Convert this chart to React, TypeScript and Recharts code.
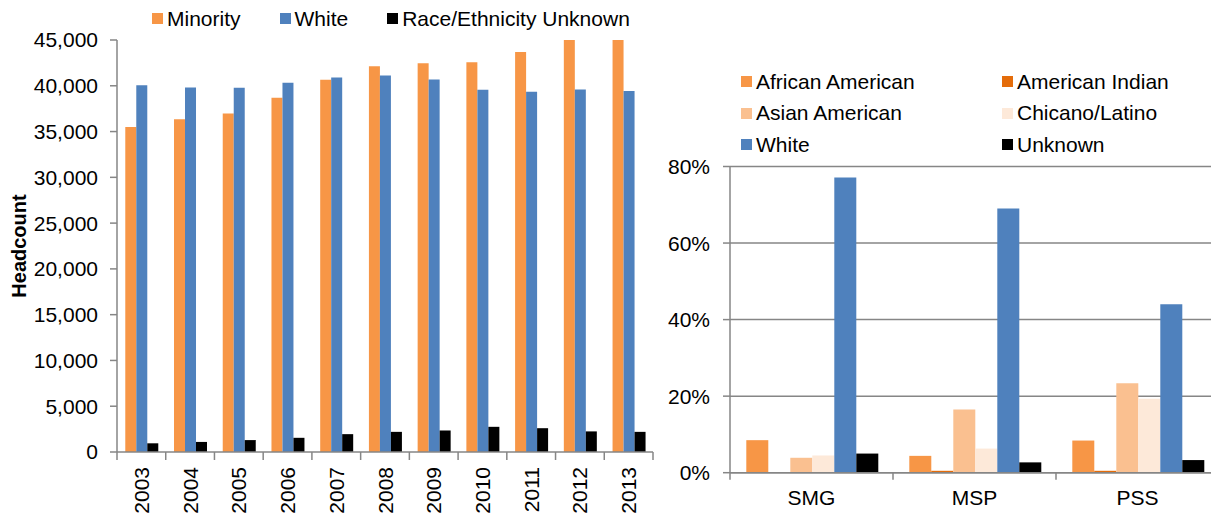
import { BarChart, Bar, XAxis, YAxis, CartesianGrid, Legend } from "recharts";

// headcount by year
const YEARS = ["2003", "2004", "2005", "2006", "2007", "2008", "2009", "2010", "2011", "2012", "2013"];
const MINORITY = [35500, 36340, 36960, 38700, 40650, 42140, 42460, 42570, 43700, 45400, 45900];
const WHITE = [40050, 39820, 39780, 40330, 40900, 41120, 40690, 39570, 39350, 39600, 39420];
const UNKNOWN = [950, 1100, 1300, 1550, 1950, 2200, 2350, 2750, 2600, 2250, 2200];
const HEAD_TICKS = [0, 5000, 10000, 15000, 20000, 25000, 30000, 35000, 40000, 45000];

// share by campus
const CAMPUSES = ["SMG", "MSP", "PSS"];
const AFRICAN_AM = [0.085, 0.044, 0.084];
const AM_INDIAN = [0, 0.005, 0.005];
const ASIAN_AM = [0.039, 0.165, 0.234];
const CHICANO = [0.045, 0.063, 0.193];
const WHITE_PCT = [0.771, 0.69, 0.44];
const UNKNOWN_PCT = [0.05, 0.027, 0.033];
const PCT_TICKS = [0, 0.2, 0.4, 0.6, 0.8];

const LEFT_SERIES = [
  { key: "minority", name: "Minority", color: "#F79646" },
  { key: "white", name: "White", color: "#4F81BD" },
  { key: "unknown", name: "Race/Ethnicity Unknown", color: "#000000" },
];

const RIGHT_SERIES = [
  { key: "african", name: "African American", color: "#F79646" },
  { key: "indian", name: "American Indian", color: "#E46C0A" },
  { key: "asian", name: "Asian American", color: "#FAC090" },
  { key: "chicano", name: "Chicano/Latino", color: "#FDE9D9" },
  { key: "white", name: "White", color: "#4F81BD" },
  { key: "unknown", name: "Unknown", color: "#000000" },
];

const headData = YEARS.map((year, i) => ({
  year,
  minority: MINORITY[i],
  white: WHITE[i],
  unknown: UNKNOWN[i],
}));

const pctData = CAMPUSES.map((campus, i) => ({
  campus,
  african: AFRICAN_AM[i],
  indian: AM_INDIAN[i],
  asian: ASIAN_AM[i],
  chicano: CHICANO[i],
  white: WHITE_PCT[i],
  unknown: UNKNOWN_PCT[i],
}));

const AXIS = "#868686";
const FONT = "'Liberation Sans', Arial, sans-serif";

const LEFT_BAND = 536 / YEARS.length;
const RIGHT_BAND = 489 / CAMPUSES.length;

const YearTick = ({ x, y, payload, index }: any) => (
  <g>
    <line x1={x - LEFT_BAND / 2} x2={x - LEFT_BAND / 2} y1={y} y2={y + 8} stroke={AXIS} strokeWidth={1.5} />
    {index === YEARS.length - 1 && (
      <line x1={x + LEFT_BAND / 2} x2={x + LEFT_BAND / 2} y1={y} y2={y + 8} stroke={AXIS} strokeWidth={1.5} />
    )}
    <text
      transform={`translate(${x},${y + 15}) rotate(-90)`}
      textAnchor="end"
      dominantBaseline="central"
      fontSize={21}
      fill="#000"
    >
      {payload.value}
    </text>
  </g>
);

const CampusTick = ({ x, y, payload }: any) => (
  <g>
    <line x1={x - RIGHT_BAND / 2} x2={x - RIGHT_BAND / 2} y1={y} y2={y + 7} stroke={AXIS} strokeWidth={1.5} />
    <text x={x} y={y + 25} textAnchor="middle" dominantBaseline="central" fontSize={21} fill="#000">
      {payload.value}
    </text>
  </g>
);

const HeadcountLabel = () => (
  <text
    transform="translate(19,246) rotate(-90)"
    textAnchor="middle"
    dominantBaseline="central"
    fontSize={20}
    fontWeight="bold"
    fill="#000"
  >
    Headcount
  </text>
);

const Swatch = ({ color }: { color: string }) => (
  <span style={{ display: "inline-block", width: 11, height: 11, background: color, marginRight: 4 }} />
);

const LeftLegend = () => (
  <div style={{ display: "flex", gap: 39, fontSize: 21, lineHeight: "24px", color: "#000" }}>
    {LEFT_SERIES.map((s) => (
      <div key={s.key} style={{ display: "flex", alignItems: "center" }}>
        <Swatch color={s.color} />
        {s.name}
      </div>
    ))}
  </div>
);

const RightLegend = () => (
  <div
    style={{
      display: "grid",
      gridTemplateColumns: "261px 261px",
      gridAutoRows: "31.6px",
      fontSize: 21,
      color: "#000",
    }}
  >
    {RIGHT_SERIES.map((s) => (
      <div key={s.key} style={{ display: "flex", alignItems: "center" }}>
        <Swatch color={s.color} />
        {s.name}
      </div>
    ))}
  </div>
);

export default function App() {
  return (
    <div
      style={{
        position: "absolute",
        left: 0,
        top: 0,
        width: 1211,
        height: 514,
        overflow: "hidden",
        background: "#fff",
        fontFamily: FONT,
      }}
    >
      <div style={{ position: "absolute", left: 0, top: 0 }}>
        <BarChart
          width={700}
          height={514}
          data={headData}
          margin={{ top: 40, right: 47, bottom: 0, left: 0 }}
          barCategoryGap="17%"
          barGap={0}
        >
          <XAxis
            dataKey="year"
            height={62}
            interval={0}
            tick={<YearTick />}
            tickLine={false}
            tickSize={0}
            tickMargin={0}
            axisLine={{ stroke: AXIS, strokeWidth: 1.5 }}
          />
          <YAxis
            width={117}
            domain={[0, 45000]}
            ticks={HEAD_TICKS}
            allowDataOverflow
            tickFormatter={(v: number) => v.toLocaleString("en-US")}
            tick={{ fill: "#000", fontSize: 21 }}
            tickSize={7}
            tickMargin={12}
            tickLine={{ stroke: AXIS, strokeWidth: 1.5 }}
            axisLine={{ stroke: AXIS, strokeWidth: 1.5 }}
            label={<HeadcountLabel />}
          />
          <Legend
            layout="vertical"
            verticalAlign="middle"
            align="center"
            content={<LeftLegend />}
            wrapperStyle={{ left: 152, top: 6.5, width: 540 }}
          />
          {LEFT_SERIES.map((s) => (
            <Bar key={s.key} dataKey={s.key} name={s.name} fill={s.color} isAnimationActive={false} />
          ))}
        </BarChart>
      </div>

      <div style={{ position: "absolute", left: 640, top: 0 }}>
        <BarChart
          width={600}
          height={514}
          data={pctData}
          margin={{ top: 166.5, right: 21, bottom: 0, left: 0 }}
          barCategoryGap="10%"
          barGap={0}
        >
          <CartesianGrid vertical={false} stroke={AXIS} strokeWidth={1.5} />
          <XAxis
            dataKey="campus"
            height={41.3}
            interval={0}
            tick={<CampusTick />}
            tickLine={false}
            tickSize={0}
            tickMargin={0}
            axisLine={{ stroke: AXIS, strokeWidth: 1.5 }}
          />
          <YAxis
            width={90}
            domain={[0, 0.8]}
            ticks={PCT_TICKS}
            tickFormatter={(v: number) => `${Math.round(v * 100)}%`}
            tick={{ fill: "#000", fontSize: 21 }}
            tickSize={7}
            tickMargin={13}
            tickLine={{ stroke: AXIS, strokeWidth: 1.5 }}
            axisLine={{ stroke: AXIS, strokeWidth: 1.5 }}
          />
          <Legend
            layout="vertical"
            verticalAlign="middle"
            align="center"
            content={<RightLegend />}
            wrapperStyle={{ left: 101, top: 66, width: 540 }}
          />
          {RIGHT_SERIES.map((s) => (
            <Bar key={s.key} dataKey={s.key} name={s.name} fill={s.color} isAnimationActive={false} />
          ))}
        </BarChart>
      </div>
    </div>
  );
}
